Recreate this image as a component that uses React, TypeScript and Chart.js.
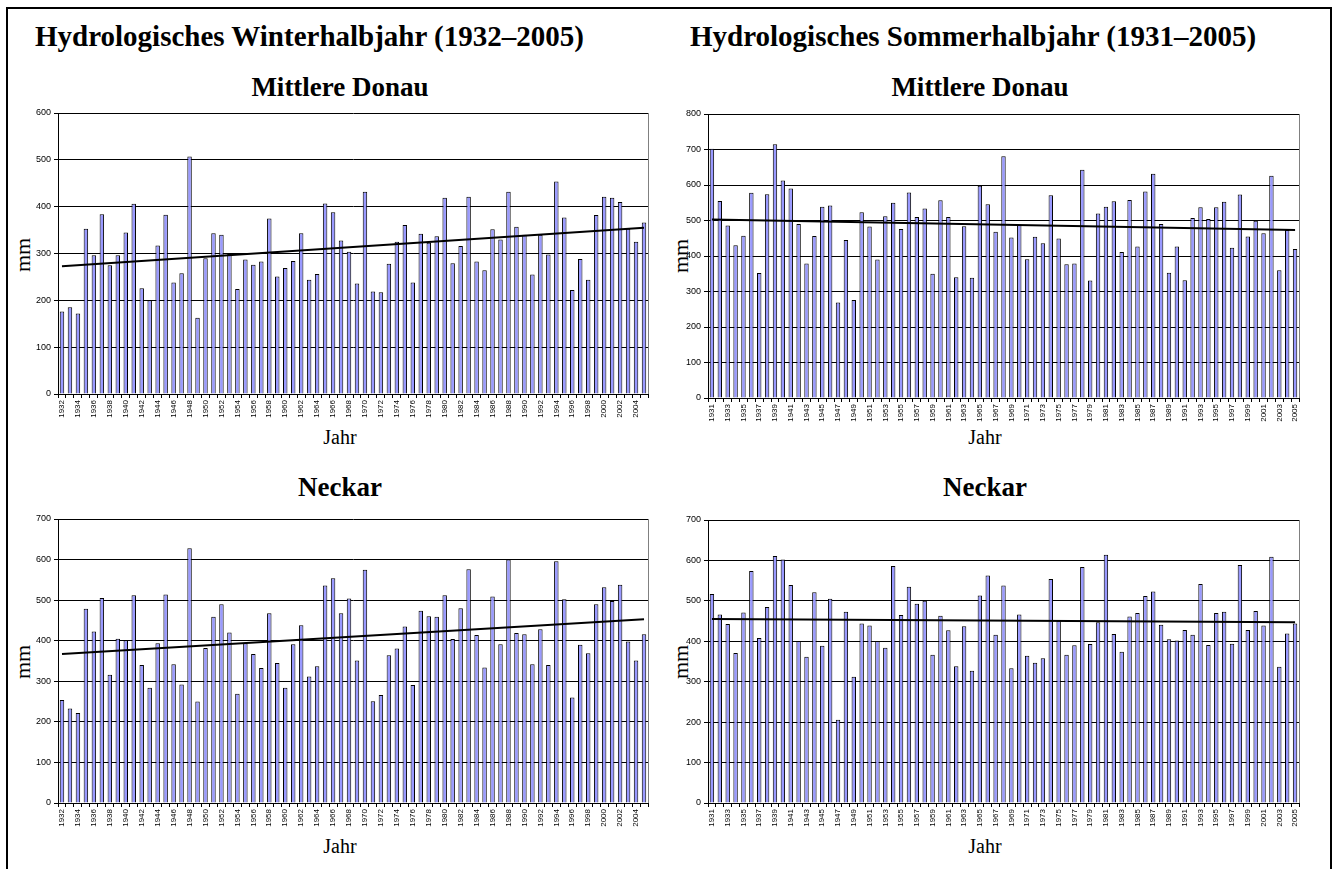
import React, { useEffect, useRef } from 'react';
import { Chart, registerables } from 'chart.js';
Chart.register(...registerables);

const winterYears = [
  '1932','1933','1934','1935','1936','1937','1938','1939','1940','1941',
  '1942','1943','1944','1945','1946','1947','1948','1949','1950','1951',
  '1952','1953','1954','1955','1956','1957','1958','1959','1960','1961',
  '1962','1963','1964','1965','1966','1967','1968','1969','1970','1971',
  '1972','1973','1974','1975','1976','1977','1978','1979','1980','1981',
  '1982','1983','1984','1985','1986','1987','1988','1989','1990','1991',
  '1992','1993','1994','1995','1996','1997','1998','1999','2000','2001',
  '2002','2003','2004','2005',
];

const summerYears = [
  '1931','1932','1933','1934','1935','1936','1937','1938','1939','1940',
  '1941','1942','1943','1944','1945','1946','1947','1948','1949','1950',
  '1951','1952','1953','1954','1955','1956','1957','1958','1959','1960',
  '1961','1962','1963','1964','1965','1966','1967','1968','1969','1970',
  '1971','1972','1973','1974','1975','1976','1977','1978','1979','1980',
  '1981','1982','1983','1984','1985','1986','1987','1988','1989','1990',
  '1991','1992','1993','1994','1995','1996','1997','1998','1999','2000',
  '2001','2002','2003','2004','2005',
];

const winterDonau = [
  176, 185, 172, 353, 296, 384, 275, 296, 345, 406,
  226, 200, 317, 383, 238, 258, 507, 163, 290, 343,
  340, 299, 224, 287, 276, 283, 375, 251, 269, 284,
  343, 244, 256, 407, 388, 328, 304, 236, 432, 219,
  217, 278, 325, 361, 238, 342, 323, 337, 419, 279,
  316, 421, 283, 264, 352, 330, 432, 357, 340, 255,
  340, 298, 454, 377, 222, 288, 244, 382, 421, 419,
  410, 353, 325, 366,
];
const winterDonauTrend = [273, 355];

const summerDonau = [
  702, 555, 486, 430, 457, 578, 352, 574, 715, 613,
  590, 490, 379, 456, 539, 542, 269, 445, 276, 523,
  483, 390, 512, 550, 476, 579, 510, 534, 350, 557,
  510, 340, 484, 339, 598, 546, 468, 681, 452, 488,
  391, 454, 436, 571, 449, 377, 379, 643, 331, 520,
  539, 554, 411, 558, 427, 582, 632, 490, 353, 427,
  332, 507, 537, 504, 537, 553, 423, 573, 455, 499,
  464, 626, 360, 473, 420,
];
const summerDonauTrend = [503, 473];

const winterNeckar = [
  254, 233, 222, 479, 423, 505, 316, 405, 401, 512,
  340, 284, 394, 514, 342, 292, 628, 250, 382, 459,
  490, 420, 269, 394, 367, 333, 468, 345, 284, 391,
  438, 312, 337, 536, 554, 468, 504, 351, 575, 251,
  266, 364, 381, 435, 291, 474, 460, 459, 512, 404,
  480, 576, 414, 334, 509, 391, 600, 419, 416, 342,
  428, 340, 596, 502, 260, 390, 369, 490, 532, 498,
  538, 398, 351, 416,
];
const winterNeckarTrend = [367, 453];

const summerNeckar = [
  517, 466, 443, 371, 471, 574, 408, 485, 611, 602,
  539, 401, 362, 521, 389, 505, 206, 473, 312, 444,
  439, 401, 384, 586, 465, 535, 493, 500, 367, 463,
  427, 338, 437, 327, 513, 563, 416, 538, 333, 466,
  364, 347, 358, 554, 451, 367, 390, 584, 393, 447,
  614, 418, 374, 461, 470, 512, 523, 441, 405, 402,
  428, 416, 542, 391, 470, 473, 394, 589, 428, 475,
  439, 609, 337, 419, 444,
];
const summerNeckarTrend = [455, 447];

const SERIF = '"Liberation Serif", "Times New Roman", serif';
const SANS = '"Liberation Sans", Arial, sans-serif';

type Box = { left: number; top: number; width: number; height: number };
type Plot = { left: number; top: number; right: number; bottom: number };

function BarChart(props: {
  years: string[];
  values: number[];
  trend: number[];
  max: number;
  box: Box;
  plot: Plot;
}) {
  const { years, values, trend, max, box, plot } = props;
  const ref = useRef<HTMLCanvasElement | null>(null);
  useEffect(() => {
    if (!ref.current) return;
    const n = years.length;
    const trendData = years.map((_, i) =>
      i === 0 ? trend[0] : i === n - 1 ? trend[1] : null
    );
    const edgePlugin = {
      id: 'rightEdge',
      afterDraw(chart: any) {
        const { ctx, chartArea: a } = chart;
        ctx.save();
        ctx.strokeStyle = '#808080';
        ctx.lineWidth = 1;
        ctx.beginPath();
        ctx.moveTo(Math.round(a.right) + 0.5, a.top);
        ctx.lineTo(Math.round(a.right) + 0.5, a.bottom);
        ctx.stroke();
        ctx.restore();
      },
    };
    const chart = new Chart(ref.current, {
      type: 'bar',
      data: {
        labels: years,
        datasets: [
          {
            type: 'line',
            data: trendData,
            borderColor: '#000',
            borderWidth: 2,
            pointRadius: 0,
            spanGaps: true,
            fill: false,
            order: 1,
          } as any,
          {
            type: 'bar',
            data: values,
            backgroundColor: '#9999FF',
            borderColor: '#000',
            borderWidth: 1,
            barPercentage: 0.56,
            categoryPercentage: 1,
            order: 2,
          },
        ],
      },
      options: {
        animation: false,
        responsive: false,
        maintainAspectRatio: false,
        layout: {
          padding: {
            top: plot.top - box.top,
            right: box.left + box.width - plot.right,
            left: 0,
            bottom: 0,
          },
        },
        plugins: { legend: { display: false }, tooltip: { enabled: false } },
        scales: {
          x: {
            afterFit(s: any) {
              s.height = box.top + box.height - plot.bottom;
            },
            grid: {
              offset: true,
              drawOnChartArea: false,
              drawTicks: true,
              tickLength: 4,
              color: '#000',
            },
            border: { color: '#000', width: 1 },
            ticks: {
              autoSkip: false,
              maxRotation: 90,
              minRotation: 90,
              padding: 2,
              color: '#000',
              font: { family: SANS, size: 8 },
              callback(this: any, v: any, i: number) {
                return i % 2 === 0 ? this.getLabelForValue(v) : '';
              },
            },
          },
          y: {
            min: 0,
            max,
            afterFit(s: any) {
              s.width = plot.left - box.left;
            },
            ticks: {
              stepSize: 100,
              padding: 3,
              color: '#000',
              font: { family: SANS, size: 9 },
            },
            grid: { color: '#000', tickLength: 4, lineWidth: 1 },
            border: { color: '#000', width: 1 },
          },
        },
      } as any,
      plugins: [edgePlugin],
    });
    return () => chart.destroy();
  }, []);
  return (
    <canvas
      ref={ref}
      width={box.width}
      height={box.height}
      style={{
        position: 'absolute',
        left: box.left,
        top: box.top,
        width: box.width,
        height: box.height,
      }}
    />
  );
}

function Label(props: {
  text: string;
  x: number;
  y: number;
  size: number;
  bold?: boolean;
  rotate?: boolean;
}) {
  const { text, x, y, size, bold, rotate } = props;
  return (
    <div
      style={{
        position: 'absolute',
        left: x,
        top: y,
        transform: `translate(-50%, -50%)${rotate ? ' rotate(-90deg)' : ''}`,
        fontFamily: SERIF,
        fontSize: size,
        fontWeight: bold ? 'bold' : 'normal',
        lineHeight: 1,
        whiteSpace: 'nowrap',
        color: '#000',
      }}
    >
      {text}
    </div>
  );
}

const headingStyle: React.CSSProperties = {
  position: 'absolute',
  top: 22,
  fontFamily: SERIF,
  fontSize: 29,
  fontWeight: 'bold',
  lineHeight: '29px',
  whiteSpace: 'nowrap',
  color: '#000',
};

export default function App() {
  return (
    <div
      style={{
        position: 'fixed',
        left: 0,
        top: 0,
        width: 1337,
        height: 869,
        background: '#fff',
        overflow: 'hidden',
      }}
    >
      <div
        style={{
          position: 'absolute',
          left: 6,
          top: 7,
          width: 1322,
          height: 900,
          border: '2px solid #000',
        }}
      />
      <div style={{ ...headingStyle, left: 35 }}>
        Hydrologisches Winterhalbjahr (1932–2005)
      </div>
      <div style={{ ...headingStyle, left: 690 }}>
        Hydrologisches Sommerhalbjahr (1931–2005)
      </div>

      <Label text="Mittlere Donau" x={340} y={87} size={27} bold />
      <Label text="Mittlere Donau" x={980} y={87} size={27} bold />
      <Label text="Neckar" x={340} y={487} size={27} bold />
      <Label text="Neckar" x={985} y={487} size={27} bold />

      <Label text="mm" x={23} y={255} size={22} rotate />
      <Label text="mm" x={681} y={256} size={22} rotate />
      <Label text="mm" x={23} y={662} size={22} rotate />
      <Label text="mm" x={681} y={662} size={22} rotate />

      <Label text="Jahr" x={340} y={437} size={20} />
      <Label text="Jahr" x={985} y={437} size={20} />
      <Label text="Jahr" x={340} y={846} size={20} />
      <Label text="Jahr" x={985} y={846} size={20} />

      <BarChart
        years={winterYears}
        values={winterDonau}
        trend={winterDonauTrend}
        max={600}
        box={{ left: 8, top: 100, width: 652, height: 330 }}
        plot={{ left: 58, top: 113, right: 648, bottom: 394 }}
      />
      <BarChart
        years={summerYears}
        values={summerDonau}
        trend={summerDonauTrend}
        max={800}
        box={{ left: 668, top: 100, width: 642, height: 330 }}
        plot={{ left: 708, top: 114, right: 1299, bottom: 398 }}
      />
      <BarChart
        years={winterYears}
        values={winterNeckar}
        trend={winterNeckarTrend}
        max={700}
        box={{ left: 8, top: 505, width: 652, height: 330 }}
        plot={{ left: 58, top: 519, right: 648, bottom: 803 }}
      />
      <BarChart
        years={summerYears}
        values={summerNeckar}
        trend={summerNeckarTrend}
        max={700}
        box={{ left: 668, top: 505, width: 642, height: 330 }}
        plot={{ left: 708, top: 520, right: 1299, bottom: 803 }}
      />
    </div>
  );
}
